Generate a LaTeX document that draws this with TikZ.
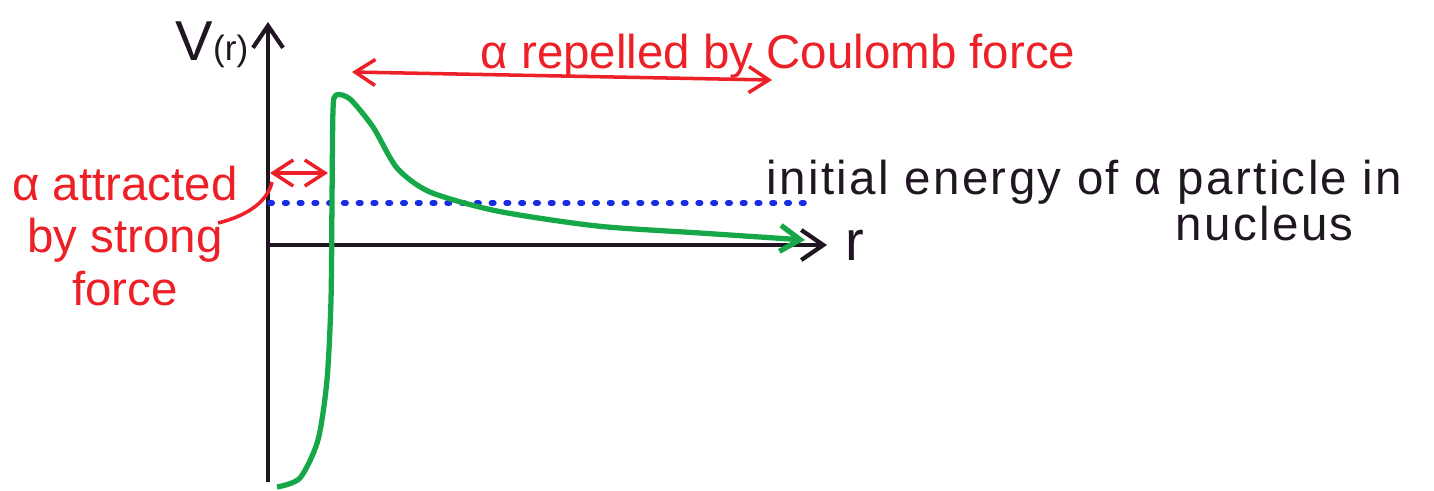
\documentclass[tikz,border=0pt]{standalone}
\usepackage{fontspec}
\setmainfont{Liberation Sans}
\usepackage{xcolor}
\usetikzlibrary{arrows.meta,positioning}
\definecolor{alphared}{RGB}{236,32,38}
\definecolor{potgreen}{RGB}{22,168,72}
\definecolor{levelblue}{RGB}{24,44,226}
\definecolor{inkblack}{RGB}{32,22,34}

\begin{document}
\begin{tikzpicture}[x=0.01cm,y=-0.01cm,axis/.style={draw=inkblack,line width=1.2pt,-{Straight Barb[length=2.2mm,width=3mm]}},pot/.style={draw=potgreen,line width=1.5pt,line join=round,-{Straight Barb[length=2mm,width=2.6mm]}},level/.style={draw=levelblue,line width=1.7pt,line cap=round,dash pattern=on 0.6pt off 3.6pt},force/.style={draw=alphared,line width=1pt,{Straight Barb[length=2mm,width=2.6mm]}-{Straight Barb[length=2mm,width=2.6mm]}},redtext/.style={text=alphared,font=\fontsize{13.5}{15}\selectfont,inner sep=0pt},blacktext/.style={text=inkblack,font=\fontsize{13.5}{15}\selectfont\addfontfeature{LetterSpace=5},inner sep=0pt}]
\useasboundingbox (0,0) rectangle (1434,490);
% axes
\coordinate (O) at (268,245);
\coordinate (Vbot) at (268,482);
\coordinate (Vtop) at (268,22);
\coordinate (Rend) at (827,245);
\draw[axis] (Vbot)--(Vtop);
\draw[axis] (O)--(Rend);
\node[text=inkblack,inner sep=0pt] (Vlab) at (212,45) {{\fontsize{16}{16}\selectfont V}{\fontsize{10}{10}\selectfont(r)}};
\node[text=inkblack,inner sep=0pt,font=\fontsize{16}{16}\selectfont,right=5pt of Rend] (Rlab) {r};
% initial energy level
\coordinate (Lstart) at (270,203);
\coordinate (Lend) at (812,203);
\draw[level] (Lstart)--(Lend);
\node[blacktext,anchor=base west] (energy) at (766,194) {initial energy of α particle in};
\node[blacktext,anchor=base west] (nucleus) at (1175,240) {nucleus};
% potential curve
\draw[pot] plot[smooth,tension=0.45] coordinates {(277,487) (300,478) (318,440) (327,380) (331,300) (332,200) (333,110) (336,95) (350,99) (373,127) (397,168) (430,192) (497,211) (597,226) (700,233) (805,240)};
% coulomb arrow
\coordinate (cL) at (352,72);
\coordinate (cR) at (772,80);
\draw[force] (cL)--(cR);
\node[redtext,anchor=base] (coulomb) at (778,68) {α repelled by Coulomb force};
% strong force arrow
\coordinate (sL) at (270,173);
\coordinate (sR) at (328,173);
\draw[force] (sL)--(sR);
\node[redtext,align=center,anchor=north] (strong) at (125,165) {α attracted\\by strong\\force};
\coordinate (lead) at (218,223);
\draw[draw=alphared,line width=1pt] (lead) .. controls (250,215) and (268,200) .. (272,182);
\end{tikzpicture}
\end{document}
